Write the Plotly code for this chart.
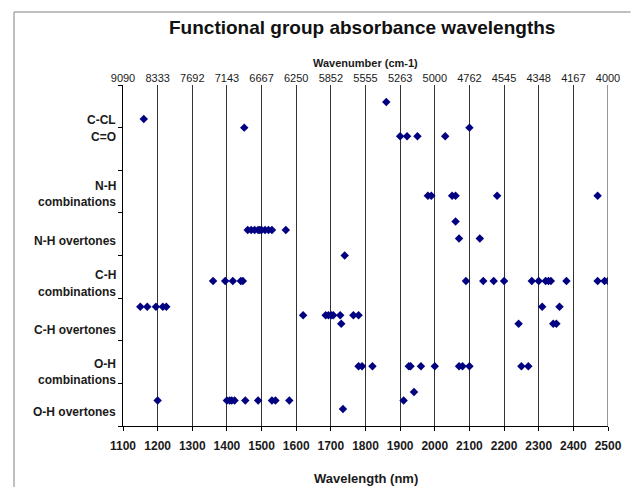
import plotly.graph_objects as go

# Absorbance wavelengths (nm) and plotting level for each functional group
c_cl_nm = [1160, 1860]
c_cl_lv = [7.2, 7.6]

c_o_nm = [1450, 2100, 1900, 1920, 1950, 2030]
c_o_lv = [7.0, 7.0, 6.8, 6.8, 6.8, 6.8]

nh_comb_nm = [1980, 1990, 2050, 2060, 2180, 2470]
nh_comb_lv = [5.4, 5.4, 5.4, 5.4, 5.4, 5.4]

nh_over_nm = [2060, 1460, 1470, 1480, 1490, 1495, 1500, 1510, 1520, 1530, 1570, 2070, 2130]
nh_over_lv = [4.8, 4.6, 4.6, 4.6, 4.6, 4.6, 4.6, 4.6, 4.6, 4.6, 4.6, 4.4, 4.4]

ch_comb_nm = [1740, 1360, 1395, 1417, 1440, 1446, 2090, 2140, 2170, 2200, 2280, 2300,
              2320, 2328, 2335, 2380, 2470, 2490, 2500]
ch_comb_lv = [4.0, 3.4, 3.4, 3.4, 3.4, 3.4, 3.4, 3.4, 3.4, 3.4, 3.4, 3.4,
              3.4, 3.4, 3.4, 3.4, 3.4, 3.4, 3.4]

ch_over_nm = [1150, 1170, 1195, 1215, 1225, 2310, 2360,
              1620, 1685, 1693, 1701, 1707, 1727, 1765, 1780,
              1730, 2242, 2342, 2351]
ch_over_lv = [2.8, 2.8, 2.8, 2.8, 2.8, 2.8, 2.8,
              2.6, 2.6, 2.6, 2.6, 2.6, 2.6, 2.6, 2.6,
              2.4, 2.4, 2.4, 2.4]

oh_comb_nm = [1780, 1790, 1820, 1925, 1930, 1960, 2000, 2070, 2080, 2100, 2250, 2270]
oh_comb_lv = [1.4, 1.4, 1.4, 1.4, 1.4, 1.4, 1.4, 1.4, 1.4, 1.4, 1.4, 1.4]

oh_over_nm = [1940, 1200, 1400, 1408, 1414, 1422, 1453, 1490, 1530, 1540, 1580, 1910, 1735]
oh_over_lv = [0.8, 0.6, 0.6, 0.6, 0.6, 0.6, 0.6, 0.6, 0.6, 0.6, 0.6, 0.6, 0.4]

# Axis ticks
wavelength_ticks = [1100, 1200, 1300, 1400, 1500, 1600, 1700, 1800, 1900,
                    2000, 2100, 2200, 2300, 2400, 2500]
wavenumber_labels = ["9090", "8333", "7692", "7143", "6667", "6250", "5852", "5555",
                     "5263", "5000", "4762", "4545", "4348", "4167", "4000"]

# Group labels down the left side (one entry per text line)
group_labels = ["C-CL", "C=O", "N-H", "combinations", "N-H overtones", "C-H",
                "combinations", "C-H overtones", "O-H", "combinations", "O-H overtones"]
group_label_px = [120, 137, 186, 202, 241, 275, 292, 330, 364, 380, 412]

groups = [
    ("C-CL", c_cl_nm, c_cl_lv),
    ("C=O", c_o_nm, c_o_lv),
    ("N-H combinations", nh_comb_nm, nh_comb_lv),
    ("N-H overtones", nh_over_nm, nh_over_lv),
    ("C-H combinations", ch_comb_nm, ch_comb_lv),
    ("C-H overtones", ch_over_nm, ch_over_lv),
    ("O-H combinations", oh_comb_nm, oh_comb_lv),
    ("O-H overtones", oh_over_nm, oh_over_lv),
]

FONT = "Arial, 'Liberation Sans', sans-serif"
W, H = 634, 487
L, R, T, B = 123, 17, 85, 61
plot_h = H - T - B
plot_w = W - L - R


def py(px):
    """pixel row -> paper y"""
    return (H - B - px) / plot_h


def pxx(px):
    """pixel column -> paper x"""
    return (px - L) / plot_w


fig = go.Figure()
for name, nm, lv in groups:
    fig.add_trace(go.Scatter(
        x=nm, y=lv, mode="markers", name=name,
        marker=dict(symbol="diamond", size=6.5, color="#000080"),
        showlegend=False,
    ))

# carrier for the wavenumber axis along the top
fig.add_trace(go.Scatter(x=[wavelength_ticks[0], wavelength_ticks[-1]], y=[0, 0],
                         xaxis="x2", mode="markers", marker=dict(opacity=0),
                         hoverinfo="skip", showlegend=False))

annotations = []
for text, ypx in zip(group_labels, group_label_px):
    annotations.append(dict(text=f"<b>{text}</b>", xref="paper", yref="paper",
                            x=pxx(118), y=py(ypx),
                            xanchor="right", yanchor="middle", showarrow=False,
                            font=dict(family=FONT, size=12, color="#1a1a1a")))

annotations.append(dict(text="<b>Wavenumber (cm-1)</b>", xref="paper", yref="paper",
                        x=pxx(370), y=py(63), xanchor="center", yanchor="middle",
                        showarrow=False, font=dict(family=FONT, size=11, color="#1a1a1a")))
annotations.append(dict(text="<b>Wavelength (nm)</b>", xref="paper", yref="paper",
                        x=pxx(370), y=py(478), xanchor="center", yanchor="middle",
                        showarrow=False, font=dict(family=FONT, size=13, color="#1a1a1a")))
annotations.append(dict(text="<b>Functional group absorbance wavelengths</b>", xref="paper",
                        yref="paper", x=pxx(366), y=py(28), xanchor="center", yanchor="middle",
                        showarrow=False, font=dict(family=FONT, size=19, color="#111111")))

shapes = [
    # chart-area frame
    dict(type="path", xref="paper", yref="paper",
         path=f"M {pxx(12)},{py(490)} L {pxx(12)},{py(12)} L {pxx(640)},{py(12)}",
         line=dict(color="#808080", width=1)),
    # right-hand gridline at 2500 nm
    dict(type="line", xref="x", yref="paper", x0=2500, x1=2500, y0=0, y1=1,
         line=dict(color="#333333", width=1)),
]

fig.update_layout(
    width=W, height=H,
    margin=dict(l=L, r=R, t=T, b=B),
    paper_bgcolor="white", plot_bgcolor="white",
    font=dict(family=FONT, color="#1a1a1a"),
    annotations=annotations,
    shapes=shapes,
    xaxis=dict(range=[1100, 2500], tickvals=wavelength_ticks,
               ticktext=[f"<b>{v}</b>" for v in wavelength_ticks],
               tickfont=dict(size=12, color="#1a1a1a"),
               ticks="outside", ticklen=4, tickcolor="black", ticklabelstandoff=5,
               showline=True, linecolor="black", linewidth=1,
               showgrid=True, gridcolor="#333333", gridwidth=1, zeroline=False),
    xaxis2=dict(range=[1100, 2500], overlaying="x", side="top",
                tickvals=wavelength_ticks, ticktext=wavenumber_labels,
                tickfont=dict(size=11, color="#1a1a1a"),
                ticks="", showline=False, showgrid=False, zeroline=False),
    yaxis=dict(range=[0, 8], tickvals=[0, 1, 2, 3, 4, 5, 6, 7, 8],
               showticklabels=False, ticks="outside", ticklen=4, tickcolor="black",
               showline=True, linecolor="black", linewidth=1,
               showgrid=False, zeroline=False),
)

fig.write_html("out.html")
